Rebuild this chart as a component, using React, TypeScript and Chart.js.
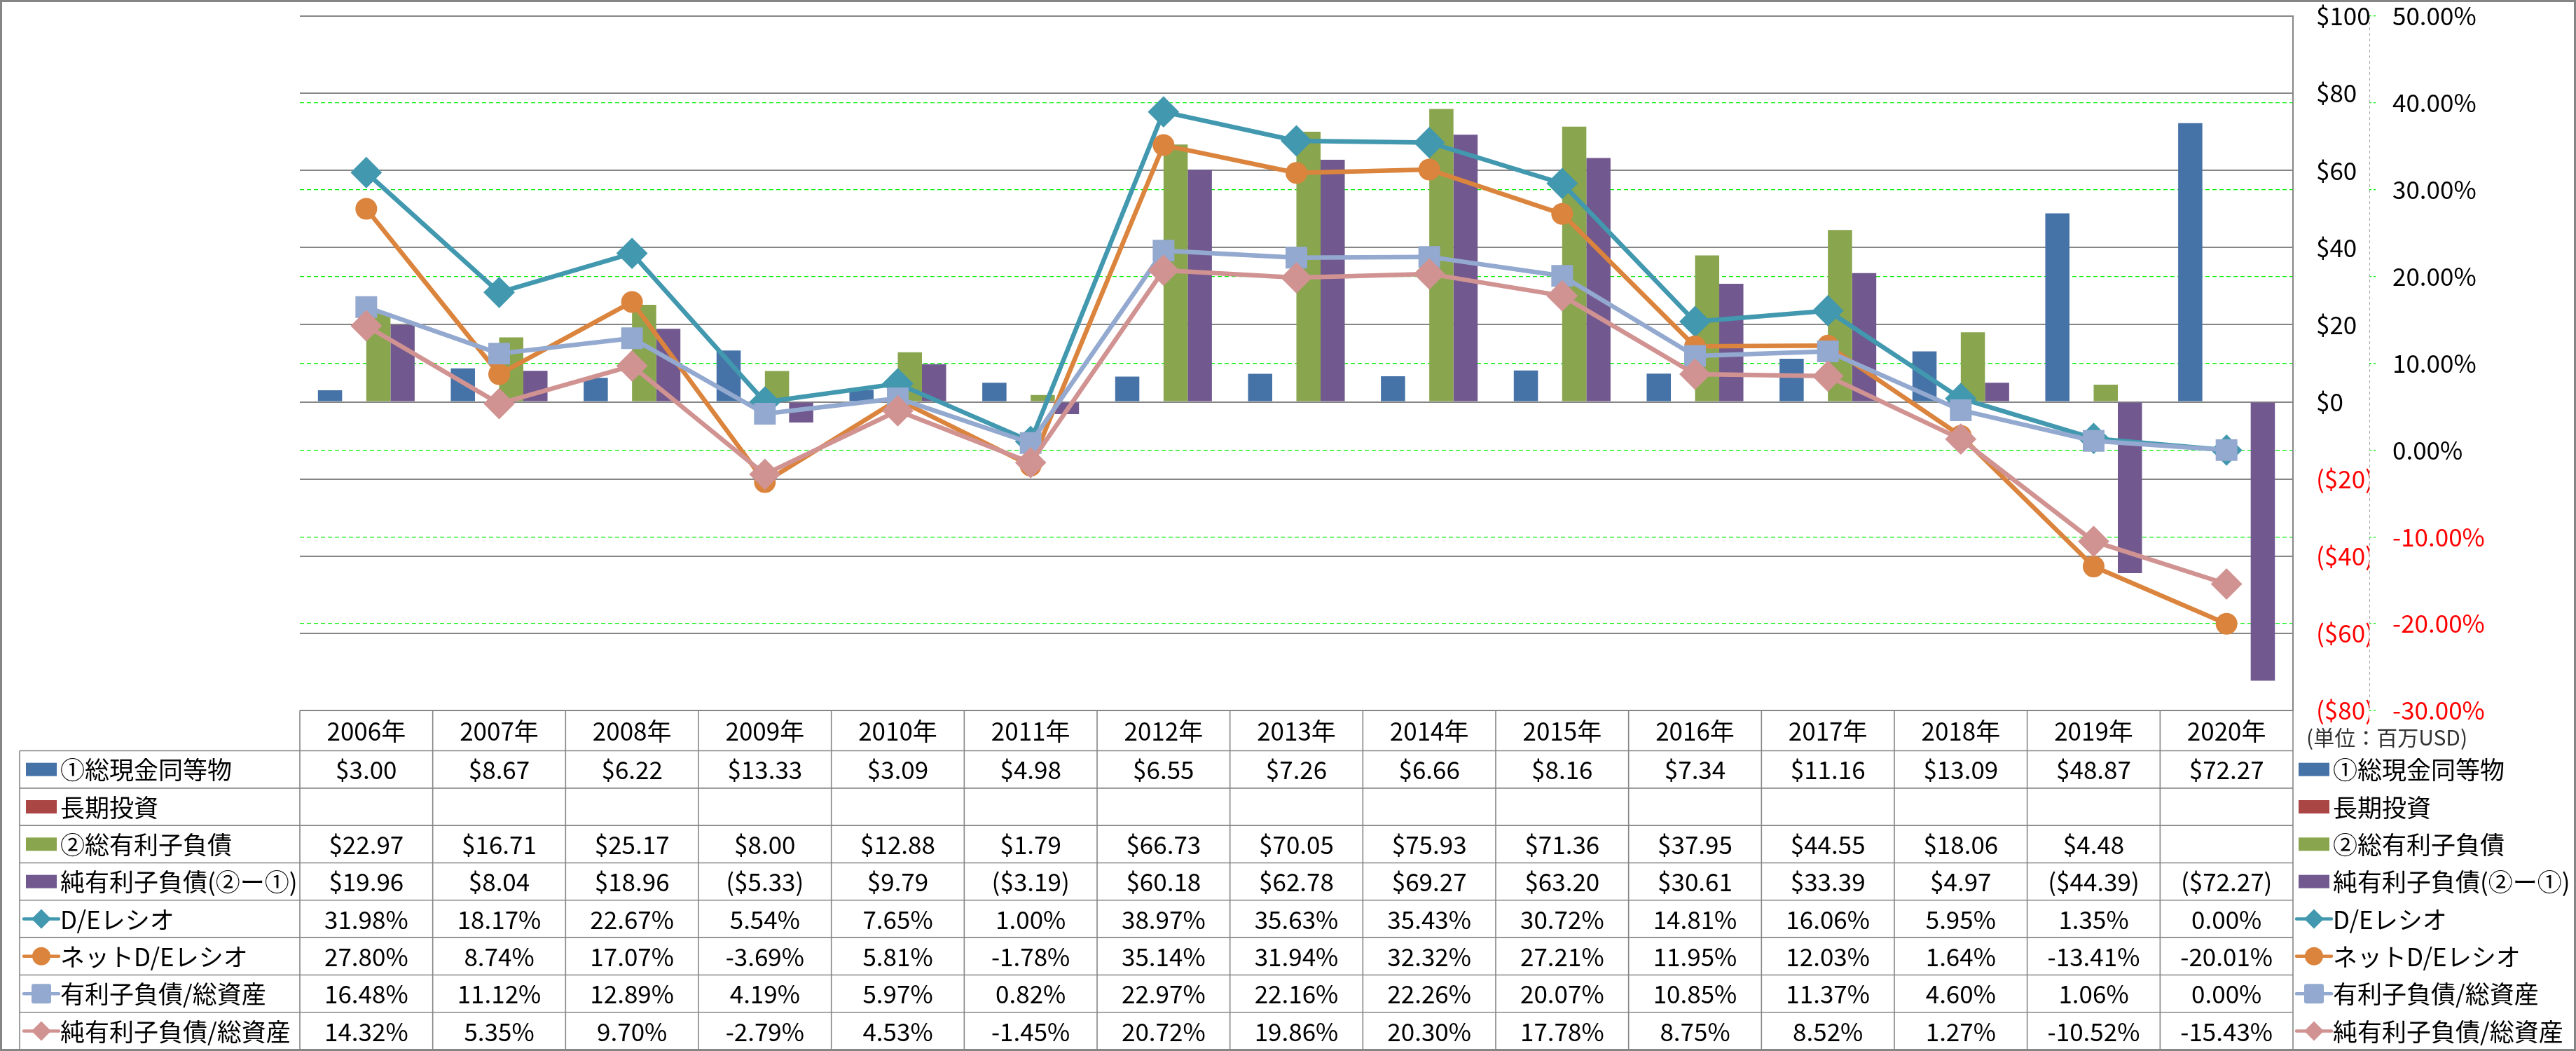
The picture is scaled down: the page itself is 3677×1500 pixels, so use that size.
import React, { useEffect, useRef } from 'react';
import { Chart, registerables } from 'chart.js';

Chart.register(...registerables);

// ---------------- data ----------------
const years = ['2006年', '2007年', '2008年', '2009年', '2010年', '2011年', '2012年', '2013年', '2014年', '2015年', '2016年', '2017年', '2018年', '2019年', '2020年'];

const cashEquivalents = [3.00, 8.67, 6.22, 13.33, 3.09, 4.98, 6.55, 7.26, 6.66, 8.16, 7.34, 11.16, 13.09, 48.87, 72.27];
const longTermInvestments: (number | null)[] = [null, null, null, null, null, null, null, null, null, null, null, null, null, null, null];
const totalDebt: (number | null)[] = [22.97, 16.71, 25.17, 8.00, 12.88, 1.79, 66.73, 70.05, 75.93, 71.36, 37.95, 44.55, 18.06, 4.48, null];
const netDebt = [19.96, 8.04, 18.96, -5.33, 9.79, -3.19, 60.18, 62.78, 69.27, 63.20, 30.61, 33.39, 4.97, -44.39, -72.27];

const deRatio = [31.98, 18.17, 22.67, 5.54, 7.65, 1.00, 38.97, 35.63, 35.43, 30.72, 14.81, 16.06, 5.95, 1.35, 0.00];
const netDeRatio = [27.80, 8.74, 17.07, -3.69, 5.81, -1.78, 35.14, 31.94, 32.32, 27.21, 11.95, 12.03, 1.64, -13.41, -20.01];
const debtToAssets = [16.48, 11.12, 12.89, 4.19, 5.97, 0.82, 22.97, 22.16, 22.26, 20.07, 10.85, 11.37, 4.60, 1.06, 0.00];
const netDebtToAssets = [14.32, 5.35, 9.70, -2.79, 4.53, -1.45, 20.72, 19.86, 20.30, 17.78, 8.75, 8.52, 1.27, -10.52, -15.43];

const seriesNames = ['①総現金同等物', '長期投資', '②総有利子負債', '純有利子負債(②ー①)', 'D/Eレシオ', 'ネットD/Eレシオ', '有利子負債/総資産', '純有利子負債/総資産'];

const dollarMin = -80;
const dollarMax = 100;
const dollarStep = 20;
const percentMin = -30;
const percentMax = 50;
const percentStep = 10;
const unitLabel = '(単位：百万USD)';

// ---------------- styles ----------------
const FONT = "'Noto Sans CJK JP', 'Noto Sans', sans-serif";
const FONT_SIZE = 35;
const GRID_GRAY = '#868686';

type Series = {
  name: string;
  kind: 'bar' | 'line';
  data: (number | null)[];
  color: string;
  pointStyle?: string;
  pointRadius?: number;
};

const series: Series[] = [
  { name: seriesNames[0], kind: 'bar', data: cashEquivalents, color: '#4572A7' },
  { name: seriesNames[1], kind: 'bar', data: longTermInvestments, color: '#AA4643' },
  { name: seriesNames[2], kind: 'bar', data: totalDebt, color: '#89A54E' },
  { name: seriesNames[3], kind: 'bar', data: netDebt, color: '#71588F' },
  { name: seriesNames[4], kind: 'line', data: deRatio, color: '#4198AF', pointStyle: 'rectRot', pointRadius: 21 },
  { name: seriesNames[5], kind: 'line', data: netDeRatio, color: '#DB843D', pointStyle: 'circle', pointRadius: 14.5 },
  { name: seriesNames[6], kind: 'line', data: debtToAssets, color: '#93A9CF', pointStyle: 'rect', pointRadius: 20.5 },
  { name: seriesNames[7], kind: 'line', data: netDebtToAssets, color: '#D19392', pointStyle: 'rectRot', pointRadius: 21 },
];

const fmtDollar = (v: number | null) => {
  if (v === null || v === undefined) return '';
  return v < 0 ? `($${Math.abs(v).toFixed(2)})` : `$${v.toFixed(2)}`;
};
const fmtPercent = (v: number | null) => (v === null || v === undefined ? '' : `${v.toFixed(2)}%`);

function drawKey(ctx: CanvasRenderingContext2D, s: Series, cx: number, cy: number) {
  ctx.save();
  ctx.fillStyle = s.color;
  ctx.strokeStyle = s.color;
  if (s.kind === 'bar') {
    ctx.fillRect(cx - 22, cy - 9.5, 44, 19);
  } else {
    ctx.lineWidth = 4.5;
    ctx.lineCap = 'round';
    ctx.beginPath();
    ctx.moveTo(cx - 25, cy);
    ctx.lineTo(cx + 25, cy);
    ctx.stroke();
    ctx.beginPath();
    if (s.pointStyle === 'circle') {
      ctx.arc(cx, cy, 13, 0, Math.PI * 2);
    } else if (s.pointStyle === 'rect') {
      const h = 14;
      const r = 3;
      ctx.moveTo(cx - h + r, cy - h);
      ctx.arcTo(cx + h, cy - h, cx + h, cy + h, r);
      ctx.arcTo(cx + h, cy + h, cx - h, cy + h, r);
      ctx.arcTo(cx - h, cy + h, cx - h, cy - h, r);
      ctx.arcTo(cx - h, cy - h, cx + h, cy - h, r);
      ctx.closePath();
    } else {
      const d = 14;
      ctx.moveTo(cx, cy - d);
      ctx.lineTo(cx + d, cy);
      ctx.lineTo(cx, cy + d);
      ctx.lineTo(cx - d, cy);
      ctx.closePath();
    }
    ctx.fill();
  }
  ctx.restore();
}

const tablePlugin = {
  id: 'dataTable',
  afterDraw(chart: any) {
    const { ctx, chartArea, scales } = chart;
    const x = scales.x;
    const y2 = scales.y2;
    const n = years.length;
    const step = x.getPixelForValue(1) - x.getPixelForValue(0);
    const colLeft = (i: number) => x.getPixelForValue(i) - step / 2;
    const tableLeft = 28;
    const headerTop = chartArea.bottom;
    const headerH = 57.5;
    const rowH = 53.33;
    const rowTop = (r: number) => headerTop + headerH + r * rowH;
    const tableRight = colLeft(n);
    const rows = series.length;

    ctx.save();
    // dashed percent axis line
    ctx.strokeStyle = '#a6a6a6';
    ctx.lineWidth = 1;
    ctx.setLineDash([4, 4]);
    ctx.beginPath();
    ctx.moveTo(Math.round(y2.left) + 0.5, chartArea.top);
    ctx.lineTo(Math.round(y2.left) + 0.5, chartArea.bottom);
    ctx.stroke();
    ctx.setLineDash([]);

    // table grid
    ctx.strokeStyle = GRID_GRAY;
    ctx.lineWidth = 1.6;
    const line = (x1: number, y1: number, x2: number, y2v: number) => {
      ctx.beginPath();
      ctx.moveTo(x1, y1);
      ctx.lineTo(x2, y2v);
      ctx.stroke();
    };
    line(colLeft(0), headerTop, tableRight, headerTop);
    for (let r = 0; r <= rows; r++) line(tableLeft, rowTop(r), tableRight, rowTop(r));
    for (let i = 0; i <= n; i++) line(colLeft(i), headerTop, colLeft(i), rowTop(rows));
    line(tableLeft, rowTop(0), tableLeft, rowTop(rows));

    // header text
    ctx.fillStyle = '#000';
    ctx.font = `${FONT_SIZE}px ${FONT}`;
    ctx.textAlign = 'center';
    ctx.textBaseline = 'middle';
    for (let i = 0; i < n; i++) ctx.fillText(years[i], x.getPixelForValue(i), headerTop + headerH / 2 + 1);

    // rows
    series.forEach((s, r) => {
      const cy = rowTop(r) + rowH / 2 + 1;
      ctx.textAlign = 'center';
      ctx.fillStyle = '#000';
      for (let i = 0; i < n; i++) {
        const v = s.data[i];
        const txt = s.kind === 'bar' ? fmtDollar(v) : fmtPercent(v);
        if (txt) ctx.fillText(txt, x.getPixelForValue(i), cy);
      }
      // left legend cell
      drawKey(ctx, s, 59, cy - 1);
      ctx.textAlign = 'left';
      ctx.fillStyle = '#000';
      ctx.fillText(s.name, 86, cy);
      // right legend
      drawKey(ctx, s, 3303, cy - 1);
      ctx.fillText(s.name, 3330, cy);
    });

    // unit label
    ctx.font = `30px ${FONT}`;
    ctx.fillStyle = '#333';
    ctx.textAlign = 'left';
    ctx.fillText(unitLabel, 3292, headerTop + headerH / 2 + 10);

    // outer frame
    ctx.strokeStyle = GRID_GRAY;
    ctx.lineWidth = 3;
    ctx.strokeRect(1.5, 1.5, chart.width - 3, chart.height - 3);
    ctx.restore();
  },
};

export default function App() {
  const ref = useRef<HTMLCanvasElement>(null);

  useEffect(() => {
    document.documentElement.style.margin = '0';
    document.body.style.margin = '0';
    document.body.style.overflow = 'hidden';
    Chart.defaults.font.family = FONT;
    Chart.defaults.font.size = FONT_SIZE;
    Chart.defaults.color = '#000';

    const datasets: any[] = series.map((s, idx) => {
      if (s.kind === 'bar') {
        return {
          type: 'bar',
          label: s.name,
          data: s.data,
          backgroundColor: s.color,
          borderWidth: 0,
          yAxisID: 'y',
          order: 10 + idx,
          barPercentage: 1,
          categoryPercentage: 0.728,
        };
      }
      return {
        type: 'line',
        label: s.name,
        data: s.data,
        borderColor: s.color,
        backgroundColor: s.color,
        borderWidth: 6.5,
        borderJoinStyle: 'round',
        borderCapStyle: 'round',
        tension: 0,
        fill: false,
        pointStyle: s.pointStyle,
        pointRadius: s.pointRadius,
        pointBorderWidth: 2,
        pointBackgroundColor: s.color,
        pointBorderColor: s.color,
        yAxisID: 'y2',
        order: 8 - idx,
      };
    });

    const chart = new Chart(ref.current as HTMLCanvasElement, {
      type: 'bar',
      data: { labels: years, datasets },
      options: {
        responsive: false,
        animation: false,
        devicePixelRatio: 1,
        events: [],
        layout: { padding: { left: 428, top: 20, right: 0, bottom: 486 } },
        plugins: { legend: { display: false }, tooltip: { enabled: false } },
        scales: {
          x: { type: 'category', display: false, offset: true, grid: { offset: true } },
          y: {
            position: 'right',
            weight: 0,
            min: dollarMin,
            max: dollarMax,
            ticks: {
              stepSize: dollarStep,
              padding: 33,
              font: { size: FONT_SIZE, family: FONT },
              color: (c: any) => (c.tick && c.tick.value < 0 ? '#FF0000' : '#000000'),
              callback: (v: any) => (v < 0 ? `($${Math.abs(v)})` : `$${v}`),
            },
            grid: { color: GRID_GRAY, lineWidth: 2, drawTicks: false, z: -0.5 },
            border: { display: true, color: GRID_GRAY, width: 2 },
            afterFit: (scale: any) => {
              scale.width = 109;
              scale.paddingTop = 0;
              scale.paddingBottom = 0;
            },
          },
          y2: {
            position: 'right',
            weight: 1,
            min: percentMin,
            max: percentMax,
            ticks: {
              stepSize: percentStep,
              padding: 22,
              font: { size: FONT_SIZE, family: FONT },
              color: (c: any) => (c.tick && c.tick.value < 0 ? '#FF0000' : '#000000'),
              callback: (v: any) => `${Number(v).toFixed(2)}%`,
            },
            grid: { color: '#00ee00', lineWidth: 1.3, drawTicks: true, tickLength: 11, tickColor: '#00ee00', tickBorderDash: [3, 3], z: -1 },
            border: { display: false, dash: [6, 4] },
            afterFit: (scale: any) => {
              scale.width = 295;
              scale.paddingTop = 0;
              scale.paddingBottom = 0;
            },
          },
        },
      } as any,
      plugins: [tablePlugin],
    } as any);

    return () => chart.destroy();
  }, []);

  return (
    <canvas
      ref={ref}
      width={3677}
      height={1500}
      style={{ display: 'block', width: '3677px', height: '1500px' }}
    />
  );
}
